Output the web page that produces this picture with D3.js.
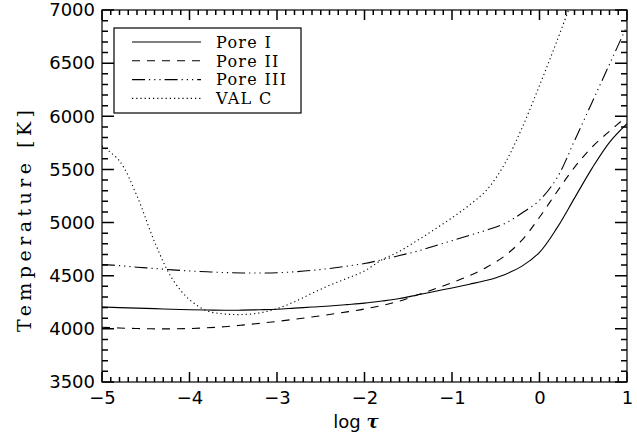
<!DOCTYPE html>
<html>
<head>
<meta charset="utf-8">
<script src="https://cdn.jsdelivr.net/npm/d3@7"></script>
<style>
  body { margin: 0; background: #fff; }
  svg { display: block; }
</style>
</head>
<body>
<svg id="chart" width="637" height="443"></svg>
<script>
// log tau grid (shared by all models)
const logTau = [-5, -4.8, -4.6, -4.4, -4.2, -4.0, -3.8, -3.6, -3.4, -3.2, -3.0,
                -2.8, -2.6, -2.4, -2.2, -2.0, -1.8, -1.6, -1.4, -1.2, -1.0,
                -0.8, -0.6, -0.4, -0.2, 0, 0.2, 0.4, 0.6, 0.8, 1.0];

const pore1 = [4205, 4200, 4195, 4190, 4185, 4180, 4177, 4175, 4176, 4180, 4185,
               4195, 4205, 4215, 4228, 4242, 4262, 4285, 4318, 4352, 4385,
               4420, 4457, 4510, 4590, 4720, 4950, 5230, 5510, 5755, 5930];
const pore2 = [4015, 4008, 4003, 4000, 4000, 4003, 4010, 4020, 4035, 4052, 4070,
               4090, 4112, 4135, 4160, 4187, 4220, 4262, 4318, 4375, 4435,
               4500, 4582, 4685, 4835, 5050, 5290, 5520, 5710, 5860, 6000];
const pore3 = [4605, 4595, 4580, 4568, 4555, 4545, 4537, 4530, 4526, 4525, 4528,
               4537, 4550, 4568, 4590, 4615, 4650, 4690, 4730, 4780, 4830,
               4880, 4930, 4990, 5090, 5210, 5420, 5770, 6130, 6490, 6850];
const valC  = [5720, 5580, 5250, 4820, 4475, 4275, 4170, 4140, 4135, 4150, 4190,
               4255, 4335, 4410, 4475, 4545, 4650, 4730, 4830, 4935, 5045,
               5165, 5310, 5550, 5890, 6290, 6710, 7150, null, null, null];

const seriesNames = ["Pore I", "Pore II", "Pore III", "VAL C"];
const seriesDash  = ["none", "8,7", "13,4,1.2,4,1.2,4,1.2,4", "1.2,3"];
const seriesVals  = [pore1, pore2, pore3, valC];

const xTicks = [-5, -4, -3, -2, -1, 0, 1];
const yTicks = [3500, 4000, 4500, 5000, 5500, 6000, 6500, 7000];

const svg = d3.select("#chart");
const pL = 102, pR = 627, pT = 10, pB = 382;

const x = d3.scaleLinear().domain([-5, 1]).range([pL, pR]);
const y = d3.scaleLinear().domain([3500, 7000]).range([pB, pT]);

const numFont = "'DejaVu Sans', sans-serif";
const serifFont = "'DejaVu Serif', serif";

// frame
svg.append("rect")
  .attr("x", pL).attr("y", pT)
  .attr("width", pR - pL).attr("height", pB - pT)
  .attr("fill", "none").attr("stroke", "#000").attr("stroke-width", 1.2);

// tick marks, pointing inward on all four sides (IDL style)
const xMinor = d3.range(-5, 1.0001, 0.1).map(v => +v.toFixed(1));
const yMinor = d3.range(3500, 7000.1, 100);
const majX = 10, minX = 5, majY = 12, minY = 6;

let p = d3.path();
xMinor.forEach(v => {
  const len = Math.abs(v - Math.round(v)) < 1e-6 ? majX : minX;
  p.moveTo(x(v), pB); p.lineTo(x(v), pB - len);
  p.moveTo(x(v), pT); p.lineTo(x(v), pT + len);
});
yMinor.forEach(v => {
  const len = v % 500 === 0 ? majY : minY;
  p.moveTo(pL, y(v)); p.lineTo(pL + len, y(v));
  p.moveTo(pR, y(v)); p.lineTo(pR - len, y(v));
});
svg.append("path")
  .attr("d", p.toString())
  .attr("fill", "none")
  .attr("stroke", "#000")
  .attr("stroke-width", 1.5);

// curves (clipped to the plot box)
const clip = svg.append("defs").append("clipPath").attr("id", "plotclip");
clip.append("rect").attr("x", pL).attr("y", pT)
  .attr("width", pR - pL).attr("height", pB - pT);

const line = d3.line()
  .defined(d => d[1] != null)
  .x(d => x(d[0])).y(d => y(d[1]))
  .curve(d3.curveCatmullRom);

const plot = svg.append("g").attr("clip-path", "url(#plotclip)");
seriesVals.forEach((vals, i) => {
  plot.append("path")
    .datum(logTau.map((t, j) => [t, vals[j]]))
    .attr("d", line)
    .attr("fill", "none")
    .attr("stroke", "#000")
    .attr("stroke-width", 1.1)
    .attr("stroke-dasharray", seriesDash[i]);
});

// tick labels through d3 axes
function styleAxis(g) {
  g.select(".domain").remove();
  g.selectAll("line").remove();
  g.selectAll("text").attr("font-family", numFont).attr("font-size", 18).attr("fill", "#000");
}
svg.append("g").attr("transform", `translate(0,${pB})`)
  .call(d3.axisBottom(x).tickValues(xTicks).tickSize(0).tickPadding(9).tickFormat(d3.format("d")))
  .call(styleAxis);
svg.append("g").attr("transform", `translate(${pL},0)`)
  .call(d3.axisLeft(y).tickValues(yTicks).tickSize(0).tickPadding(7).tickFormat(d3.format("d")))
  .call(styleAxis);

// axis titles
const xt = svg.append("text")
  .attr("x", 356).attr("y", 428)
  .attr("text-anchor", "middle")
  .attr("font-family", numFont).attr("font-size", 18);
xt.append("tspan").text("log ");
xt.append("tspan").attr("font-family", serifFont).attr("font-style", "italic")
  .attr("font-weight", "bold").text("τ");

svg.append("text")
  .attr("transform", "translate(31,221) rotate(-90)")
  .attr("text-anchor", "middle")
  .attr("font-family", serifFont).attr("font-size", 19)
  .attr("textLength", 222).attr("lengthAdjust", "spacing")
  .text("Temperature [K]");

// legend
const legend = svg.append("g");
legend.append("rect")
  .attr("x", 114).attr("y", 28).attr("width", 187).attr("height", 85)
  .attr("fill", "#fff").attr("stroke", "#000").attr("stroke-width", 1.2);

seriesNames.forEach((name, i) => {
  const ly = 42 + i * 18.8;
  legend.append("line")
    .attr("x1", 132).attr("x2", 201).attr("y1", ly).attr("y2", ly)
    .attr("stroke", "#000").attr("stroke-width", 1.1)
    .attr("stroke-dasharray", seriesDash[i]);
  legend.append("text")
    .attr("x", 216).attr("y", ly).attr("dy", "0.36em")
    .attr("font-family", serifFont).attr("font-size", 16)
    .attr("letter-spacing", 1.3)
    .text(name);
});
</script>
</body>
</html>
